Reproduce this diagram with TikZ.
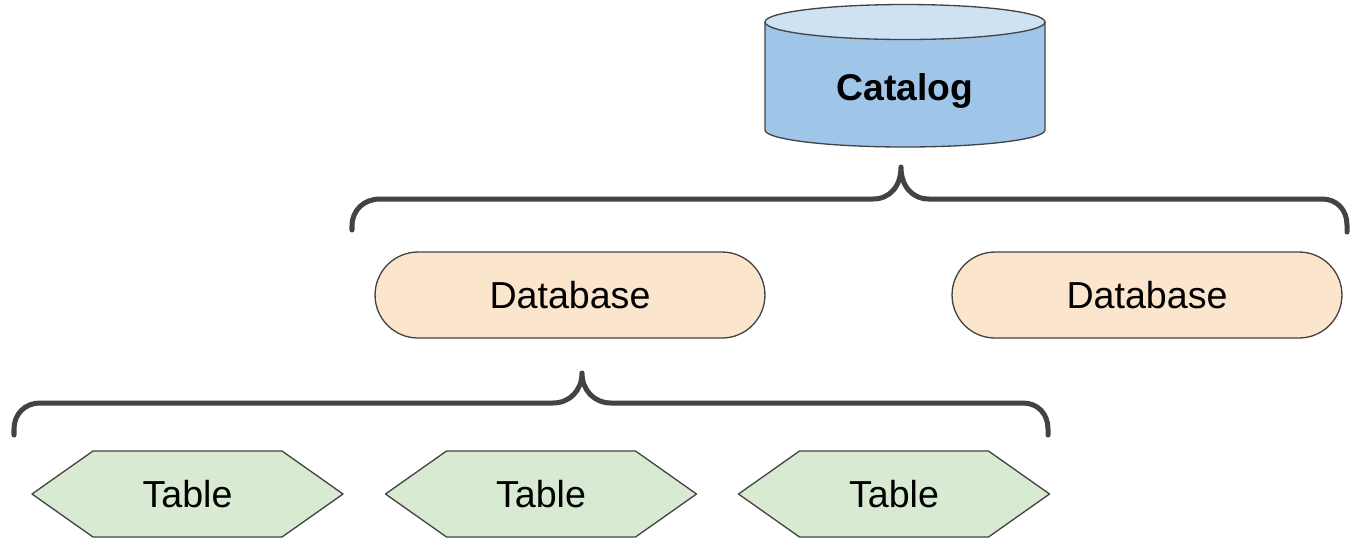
\documentclass[tikz,border=0pt]{standalone}
\usepackage{fontspec}
\setmainfont{Liberation Sans}
\usetikzlibrary{calc}
\definecolor{edge}{HTML}{434343}
\definecolor{dbfill}{HTML}{FCE5CD}
\definecolor{tblfill}{HTML}{D9EAD3}
\definecolor{cylbody}{HTML}{9FC5E8}
\definecolor{cyltop}{HTML}{CFE2F3}
\tikzset{
  lbl/.style={font=\fontsize{21.4}{25}\selectfont, inner sep=0pt, text=black},
  outl/.style={draw=edge, line width=0.75pt, line join=round},
  dbbox/.style={outl, fill=dbfill, rounded corners=0.86cm, minimum width=7.8cm, minimum height=1.72cm, lbl},
  brace/.style={draw=edge, line width=2.85pt, line cap=round, line join=round},
}
\begin{document}
\begin{tikzpicture}[x=0.02cm,y=-0.02cm]
\useasboundingbox (0,0) rectangle (1350,539);
% Catalog cylinder
\fill[cylbody] (765,22) -- (765,130) arc[start angle=180, end angle=0, x radius=140, y radius=17] -- (1045,22) -- cycle;
\draw[outl] (765,22) -- (765,130) arc[start angle=180, end angle=0, x radius=140, y radius=17] -- (1045,22);
\draw[outl, fill=cyltop] (905,22) ellipse [x radius=140, y radius=17.5];
\node[lbl, font=\fontsize{21.2}{25}\selectfont\bfseries, anchor=base] (catalog) at (905,100) {Catalog};
% Upper brace
\coordinate (tipA) at (901,167);
\draw[brace] (352,230) -- (352,226) .. controls (352,210) and (364,199) .. (380,199) -- (873,199) .. controls (890,199) and (901,186) .. (tipA)
  .. controls (901,186) and (912,199) .. (929,199) -- (1322,199) .. controls (1337,199) and (1347,210) .. (1347,225) -- (1347,232);
% Databases
\node[dbbox] (db1) at (570,295) {Database};
\node[dbbox] (db2) at (1147,295) {Database};
% Lower brace
\coordinate (tipB) at (582,373);
\draw[brace] (14,435) -- (14,429) .. controls (14,414) and (25,403) .. (40,403) -- (553,403) .. controls (570,403) and (582,390) .. (tipB)
  .. controls (582,390) and (594,403) .. (611,403) -- (1023,403) .. controls (1038,403) and (1048,414) .. (1048,429) -- (1048,435);
% Tables
\foreach \n/\cx in {t1/187.5, t2/541, t3/894} {
  \draw[outl, fill=tblfill] (\cx-155.5,494) -- (\cx-94.5,451) -- (\cx+94.5,451) -- (\cx+155.5,494) -- (\cx+94.5,537) -- (\cx-94.5,537) -- cycle;
  \node[lbl] (\n) at (\cx,494) {Table};
}
\end{tikzpicture}
\end{document}
